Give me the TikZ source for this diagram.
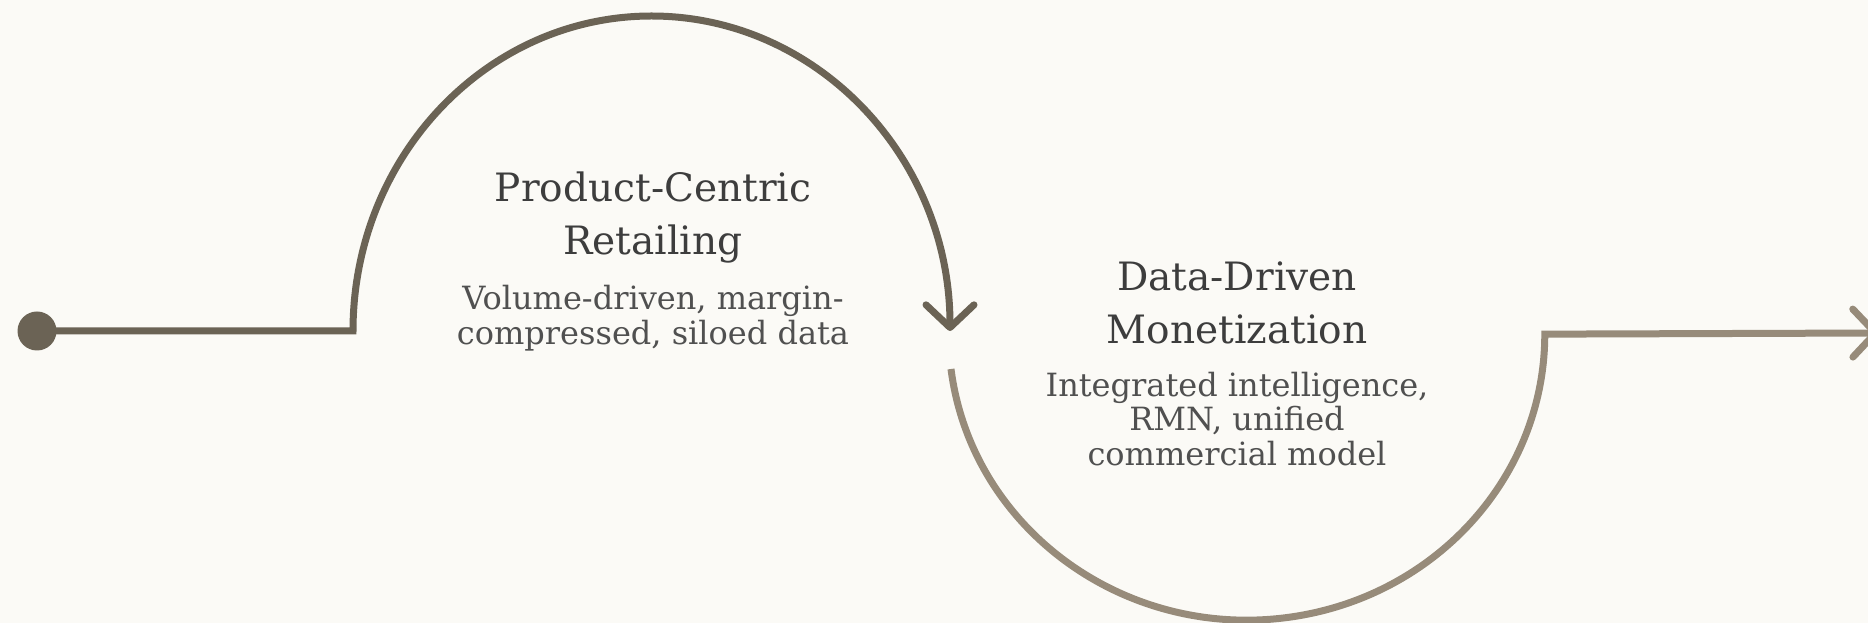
\documentclass[tikz,border=0pt]{standalone}
\usepackage{fontspec}
\setmainfont{DejaVu Serif}
\usetikzlibrary{arrows.meta}
\definecolor{bg}{HTML}{FBFAF6}
\definecolor{pathdark}{HTML}{6B6355}
\definecolor{pathlight}{HTML}{978B7A}
\definecolor{titlegray}{HTML}{3D3D3D}
\definecolor{subgray}{HTML}{505050}
\begin{document}
\begin{tikzpicture}[x=0.75pt,y=-0.75pt,
  flow/.style={line width=5.25pt, line join=miter},
  tip/.style={-{Straight Barb[length=17pt,width=36pt,round]}},
  title/.style={font=\fontsize{29.3}{39.75}\selectfont, text=titlegray, align=center, inner sep=0pt},
  sub/.style={font=\fontsize{24}{26}\selectfont, text=subgray, align=center, inner sep=0pt}]
% canvas
\fill[bg] (0,0) rectangle (1868,623);
\clip (0,0) rectangle (1868,623);
% start marker and path waypoints
\node[circle, fill=pathdark, minimum size=29.25pt, inner sep=0pt] (start) at (37,331) {};
\coordinate (rise1) at (353,331);
\coordinate (drop2) at (951,369);
\coordinate (exit) at (1879,333);
% upper loop (first phase)
\draw[flow, pathdark, tip] (start.center) -- (rise1)
  arc[start angle=180, end angle=360, x radius=298.5, y radius=315];
% lower loop (second phase) and exit
\draw[flow, pathlight, tip] (drop2)
  arc[start angle=173, end angle=0, x radius=298, y radius=286] -- (exit);
% labels
\node[title] (t1) at (653,218) {Product-Centric\\Retailing};
\node[sub] (s1) at (653,318) {Volume-driven, margin-\\compressed, siloed data};
\node[title] (t2) at (1237,303) {Data-Driven\\Monetization};
\node[sub] (s2) at (1237,419) {Integrated intelligence,\\RMN, unified\\commercial model};
\end{tikzpicture}
\end{document}
